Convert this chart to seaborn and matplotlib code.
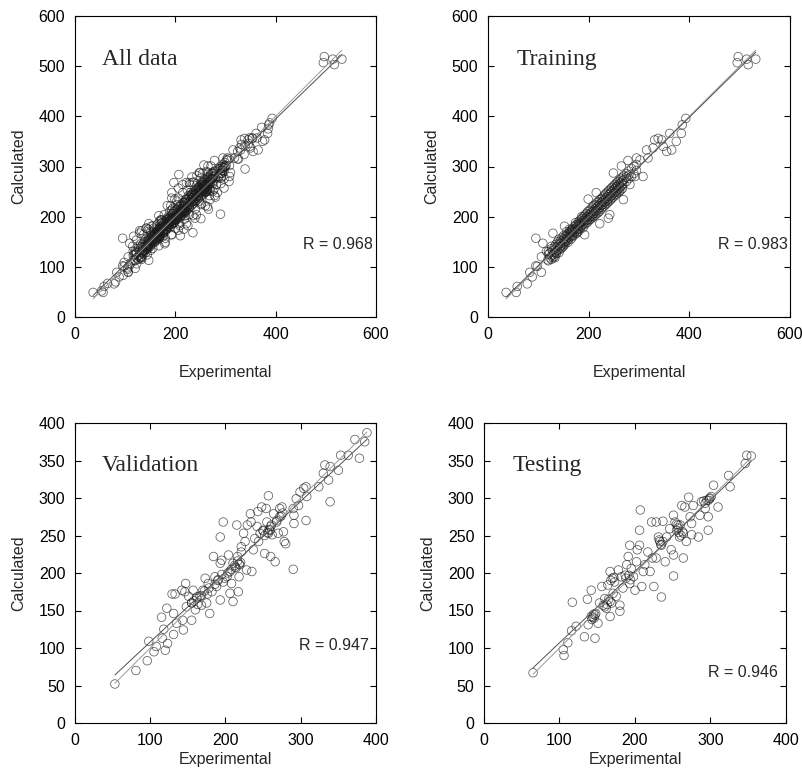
import numpy as np
import pandas as pd
import seaborn as sns
import matplotlib.pyplot as plt

# --- data (Experimental, Calculated) ---
train_pts = [
    (36, 49), (56, 49), (58, 61), (78, 66), (83, 89), (88, 80), (95, 102), (95, 157),
    (106, 89), (98, 101), (109, 147), (106, 120), (116, 131), (119, 114), (126, 141),
    (129, 167), (133, 118), (136, 127), (152, 181), (166, 174), (176, 167), (182, 187),
    (192, 164), (199, 235), (215, 248), (222, 186), (239, 197), (242, 204), (249, 287),
    (255, 260), (265, 301), (269, 234), (278, 312), (282, 264), (292, 280), (295, 317),
    (302, 313), (308, 280), (315, 333), (318, 317), (328, 337), (331, 353), (338, 356),
    (345, 353), (348, 340), (355, 330), (361, 366), (365, 333), (374, 350), (384, 366),
    (386, 383), (393, 396), (497, 519), (495, 507), (514, 514), (517, 503), (532, 514),
    (120, 112), (120, 125), (120, 131), (123, 118), (123, 128), (126, 115), (126, 122),
    (126, 136), (129, 124), (129, 133), (129, 118), (132, 121), (132, 140), (132, 128),
    (135, 130), (135, 145), (135, 126), (135, 138), (138, 133), (138, 141), (138, 150),
    (141, 136), (141, 147), (141, 128), (141, 155), (144, 140), (144, 152), (144, 135),
    (144, 146), (147, 143), (147, 158), (147, 150), (147, 138), (150, 146), (150, 155),
    (150, 162), (150, 141), (153, 149), (153, 160), (153, 152), (153, 145), (156, 151),
    (156, 163), (156, 157), (156, 170), (159, 154), (159, 166), (159, 160), (159, 149),
    (162, 158), (162, 170), (162, 164), (162, 175), (165, 161), (165, 172), (165, 155),
    (165, 168), (168, 164), (168, 176), (168, 170), (168, 160), (171, 168), (171, 180),
    (171, 173), (171, 163), (174, 170), (174, 183), (174, 177), (174, 188), (177, 174),
    (177, 185), (177, 168), (177, 180), (180, 176), (180, 190), (180, 183), (180, 171),
    (183, 180), (183, 193), (183, 186), (183, 175), (186, 182), (186, 196), (186, 189),
    (186, 200), (189, 185), (189, 199), (189, 192), (189, 178), (192, 190), (192, 203),
    (192, 195), (192, 184), (195, 192), (195, 206), (195, 199), (195, 187), (198, 194),
    (198, 210), (198, 201), (198, 189), (201, 198), (201, 212), (201, 204), (201, 193),
    (204, 200), (204, 215), (204, 207), (204, 195), (207, 203), (207, 219), (207, 210),
    (207, 198), (210, 206), (210, 222), (210, 212), (210, 200), (213, 210), (213, 224),
    (213, 216), (213, 203), (216, 212), (216, 228), (216, 219), (216, 206), (219, 215),
    (219, 230), (219, 222), (219, 208), (222, 218), (222, 234), (222, 225), (222, 211),
    (225, 222), (225, 236), (225, 228), (225, 215), (228, 224), (228, 239), (228, 231),
    (228, 218), (231, 228), (231, 243), (231, 234), (231, 221), (234, 230), (234, 246),
    (234, 237), (234, 224), (237, 233), (237, 249), (237, 240), (237, 227), (240, 236),
    (240, 252), (240, 244), (240, 230), (243, 240), (243, 255), (243, 247), (243, 233),
    (246, 242), (246, 258), (246, 250), (246, 236), (249, 246), (249, 261), (249, 253),
    (249, 239), (252, 248), (252, 264), (252, 256), (252, 242), (255, 251), (255, 267),
    (255, 259), (255, 245), (258, 254), (258, 270), (258, 262), (258, 248), (261, 257),
    (261, 273), (261, 265), (261, 250), (264, 260), (264, 276), (264, 268), (264, 253),
    (267, 263), (267, 279), (267, 271), (267, 256), (270, 266), (270, 282), (270, 274),
    (275, 270), (275, 286), (275, 279), (280, 276), (280, 291), (280, 283), (285, 280),
    (285, 296), (290, 286), (290, 300), (295, 292), (295, 304),
]

val_pts = [
    (53, 52), (81, 70), (96, 83), (98, 109), (105, 95), (108, 102), (116, 113), (115, 141),
    (118, 125), (120, 97), (122, 153), (123, 106), (131, 118), (129, 172), (133, 172),
    (131, 146), (135, 133), (142, 177), (143, 137), (144, 124), (147, 186), (146, 175),
    (148, 155), (151, 169), (155, 160), (155, 137), (157, 177), (160, 151), (162, 166),
    (166, 169), (168, 157), (170, 177), (173, 193), (175, 160), (177, 186), (179, 146),
    (182, 175), (184, 222), (186, 195), (188, 182), (190, 191), (193, 213), (193, 164),
    (195, 217), (193, 248), (197, 268), (197, 188), (202, 195), (204, 224), (206, 173),
    (206, 202), (208, 186), (210, 213), (210, 162), (213, 208), (215, 264), (216, 222),
    (217, 175), (218, 195), (219, 211), (221, 228), (221, 235), (224, 253), (226, 242),
    (228, 204), (229, 264), (233, 279), (234, 268), (235, 202), (237, 231), (239, 246),
    (242, 262), (243, 282), (244, 242), (246, 253), (248, 288), (250, 257), (252, 226),
    (254, 286), (255, 268), (257, 253), (257, 303), (259, 257), (260, 222), (261, 264),
    (264, 279), (266, 215), (268, 268), (270, 253), (272, 286), (272, 275), (275, 288),
    (277, 255), (278, 242), (280, 239), (290, 205), (290, 286), (291, 266), (291, 277),
    (294, 299), (297, 290), (299, 308), (304, 313), (307, 270), (308, 302), (307, 315),
    (324, 315), (330, 333), (332, 344), (337, 324), (339, 295), (339, 342), (350, 337),
    (353, 357), (363, 357), (372, 378), (378, 353), (385, 375), (388, 387),
    (258, 258), (252, 250), (260, 262), (256, 254), (262, 251), (250, 256),
    (212, 210), (218, 212), (214, 207), (220, 214), (208, 205), (216, 216),
    (195, 198), (199, 193), (203, 200), (190, 190), (186, 185),
    (172, 176), (178, 180), (176, 172), (168, 170),
    (158, 163), (162, 168), (155, 160), (163, 158),
    (268, 270), (274, 276), (276, 280),
]

test_pts = [
    (65, 67), (105, 98), (106, 90), (111, 107), (117, 161), (116, 123), (122, 129),
    (133, 115), (137, 165), (142, 177), (138, 131), (142, 142), (145, 145), (146, 140),
    (147, 113), (151, 133), (153, 160), (156, 182), (158, 157), (160, 166), (162, 153),
    (164, 184), (167, 202), (167, 142), (169, 160), (170, 193), (171, 173), (173, 188),
    (175, 169), (178, 204), (180, 157), (180, 149), (182, 195), (184, 180), (187, 197),
    (189, 211), (191, 222), (193, 186), (193, 237), (195, 206), (198, 195), (200, 177),
    (202, 215), (203, 231), (206, 257), (206, 237), (207, 284), (209, 182), (211, 202),
    (213, 211), (217, 228), (220, 202), (222, 268), (223, 220), (225, 182), (228, 268),
    (228, 220), (231, 248), (233, 242), (235, 168), (235, 237), (237, 269), (240, 215),
    (242, 248), (246, 259), (248, 231), (251, 224), (251, 196), (251, 277), (253, 268),
    (255, 257), (257, 264), (259, 248), (262, 290), (264, 253), (264, 220), (266, 288),
    (268, 242), (271, 301), (273, 275), (275, 266), (277, 290), (275, 251), (284, 248),
    (286, 277), (288, 295), (293, 286), (295, 297), (297, 257), (299, 299), (301, 302),
    (304, 317), (297, 275), (310, 288), (324, 330), (326, 315), (346, 346), (348, 357),
    (354, 356),
    (144, 141), (147, 144), (143, 138), (148, 146),
    (163, 158), (167, 162), (165, 165), (160, 155),
    (168, 190), (172, 194), (188, 193), (192, 197), (194, 191),
    (234, 238), (237, 242), (232, 244), (257, 260), (260, 264), (255, 265),
    (261, 250), (258, 254), (263, 255), (293, 293), (297, 297), (299, 300), (291, 296),
]

panel_titles = ["All data", "Training", "Validation", "Testing"]
r_values = ["R = 0.968", "R = 0.983", "R = 0.947", "R = 0.946"]


def to_df(pts):
    return pd.DataFrame(pts, columns=["Experimental", "Calculated"])


frames = [to_df(train_pts + val_pts + test_pts), to_df(train_pts),
          to_df(val_pts), to_df(test_pts)]

sns.set_style("ticks")
plt.rcParams["font.family"] = ["Liberation Sans", "DejaVu Sans"]

fig = plt.figure(figsize=(8.03, 7.78), dpi=100)

W, H = 803, 778
# axes boxes in pixels: left, top, right, bottom
boxes = [(75, 16, 376, 317), (488, 16, 790, 317),
         (75, 423, 376, 723), (484, 423, 786, 723)]
lims = [600, 600, 400, 400]
title_pos = [(53, 502), (56, 502), (35, 336), (38, 336)]
r_pos = [(593, 135), (595, 135), (390, 98), (389, 61)]
xpads = [17, 17, 3, 3]

for i, df in enumerate(frames):
    l, t, r, b = boxes[i]
    ax = fig.add_axes([l / W, 1 - b / H, (r - l) / W, (b - t) / H])
    sns.scatterplot(data=df, x="Experimental", y="Calculated", ax=ax,
                    marker="o", s=38, facecolor="none", edgecolor="#1a1a1a",
                    linewidth=0.55, alpha=0.7)

    x = df["Experimental"].to_numpy(float)
    y = df["Calculated"].to_numpy(float)
    xs = np.array([x.min(), x.max()])
    k, c = np.polyfit(x, y, 1)
    ax.plot(xs, xs, color="#9a9a9a", lw=0.7)
    ax.plot(xs, k * xs + c, color="#505050", lw=0.7)

    lim = lims[i]
    ax.set_xlim(0, lim)
    ax.set_ylim(0, lim)
    if lim == 600:
        ax.set_xticks(range(0, 601, 200))
        ax.set_yticks(range(0, 601, 100))
    else:
        ax.set_xticks(range(0, 401, 100))
        ax.set_yticks(range(0, 401, 50))

    ax.tick_params(direction="in", top=True, right=True, length=4, width=0.8,
                   labelsize=11.5, pad=7, colors="black")
    for sp in ax.spines.values():
        sp.set_linewidth(0.8)
        sp.set_color("black")

    ax.set_xlabel("Experimental", fontsize=11.5, labelpad=xpads[i])
    ax.set_ylabel("Calculated", fontsize=11.5, labelpad=9)

    tx, ty = title_pos[i]
    ax.text(tx, ty, panel_titles[i], family=["Liberation Serif", "DejaVu Serif"],
            fontsize=17, ha="left", va="baseline")
    rx, ry = r_pos[i]
    ax.text(rx, ry, r_values[i], fontsize=11.5, ha="right", va="baseline")

fig.savefig("out.png", dpi=100)
